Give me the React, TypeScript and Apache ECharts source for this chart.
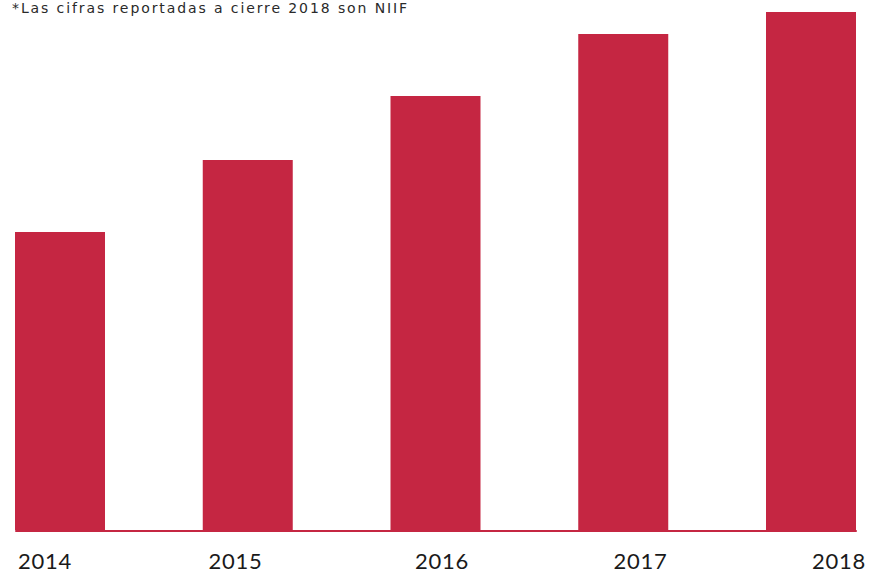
import React, { useEffect, useRef } from "react";
import * as echarts from "echarts";

const years = ["2014", "2015", "2016", "2017", "2018"];
const values = [298, 370, 434, 496, 518];
const footnote = "*Las cifras reportadas a cierre 2018 son NIIF";
const RED = "#C52642";

export default function App() {
  const ref = useRef<HTMLDivElement>(null);
  useEffect(() => {
    document.body.style.margin = "0";
    const chart = echarts.init(ref.current!, null, { renderer: "svg" });
    const hiddenY = { type: "value", min: 0, max: 530, show: false };
    chart.setOption({
      animation: false,
      backgroundColor: "#ffffff",
      title: {
        text: footnote,
        left: 12,
        top: 1,
        padding: 0,
        textStyle: {
          fontFamily: "DejaVu Sans",
          fontSize: 14,
          fontWeight: "normal",
          color: "#2a2a2a",
        },
      },
      grid: [
        { left: 60, right: 58, top: 0, bottom: 42 },
        { left: 16, right: 13, top: 0, bottom: 41 },
        { left: 45, right: 30, top: 0, bottom: 42 },
      ],
      xAxis: [
        {
          gridIndex: 0,
          type: "category",
          data: years,
          boundaryGap: false,
          axisLine: { show: false },
          axisTick: { show: false },
          axisLabel: { show: false },
        },
        {
          gridIndex: 1,
          type: "category",
          data: years,
          axisLine: { show: true, lineStyle: { color: RED, width: 2 } },
          axisTick: { show: false },
          axisLabel: { show: false },
        },
        {
          gridIndex: 2,
          type: "category",
          data: years.map((y, i) =>
            i === 1 ? { value: y, textStyle: { padding: [0, 16, 0, 0] } } : y
          ),
          boundaryGap: false,
          axisLine: { show: false },
          axisTick: { show: false },
          axisLabel: {
            margin: 19,
            fontFamily: "Lato",
            fontSize: 22,
            lineHeight: 22,
            color: "#1a1a1a",
          },
        },
      ],
      yAxis: [
        { ...hiddenY, gridIndex: 0 },
        { ...hiddenY, gridIndex: 1 },
        { ...hiddenY, gridIndex: 2 },
      ],
      series: [
        {
          type: "bar",
          xAxisIndex: 0,
          yAxisIndex: 0,
          data: values,
          barWidth: 90,
          clip: false,
          itemStyle: { color: RED },
        },
      ],
    });
    const texts = ref.current!.querySelectorAll("text");
    texts.forEach((t) => {
      if (t.textContent === footnote) t.setAttribute("letter-spacing", "1.9");
      else if (years.includes(t.textContent || "")) t.setAttribute("letter-spacing", "0.8");
    });
    return () => chart.dispose();
  }, []);
  return (
    <div
      ref={ref}
      style={{ position: "fixed", left: 0, top: 0, width: 869, height: 572 }}
    />
  );
}
